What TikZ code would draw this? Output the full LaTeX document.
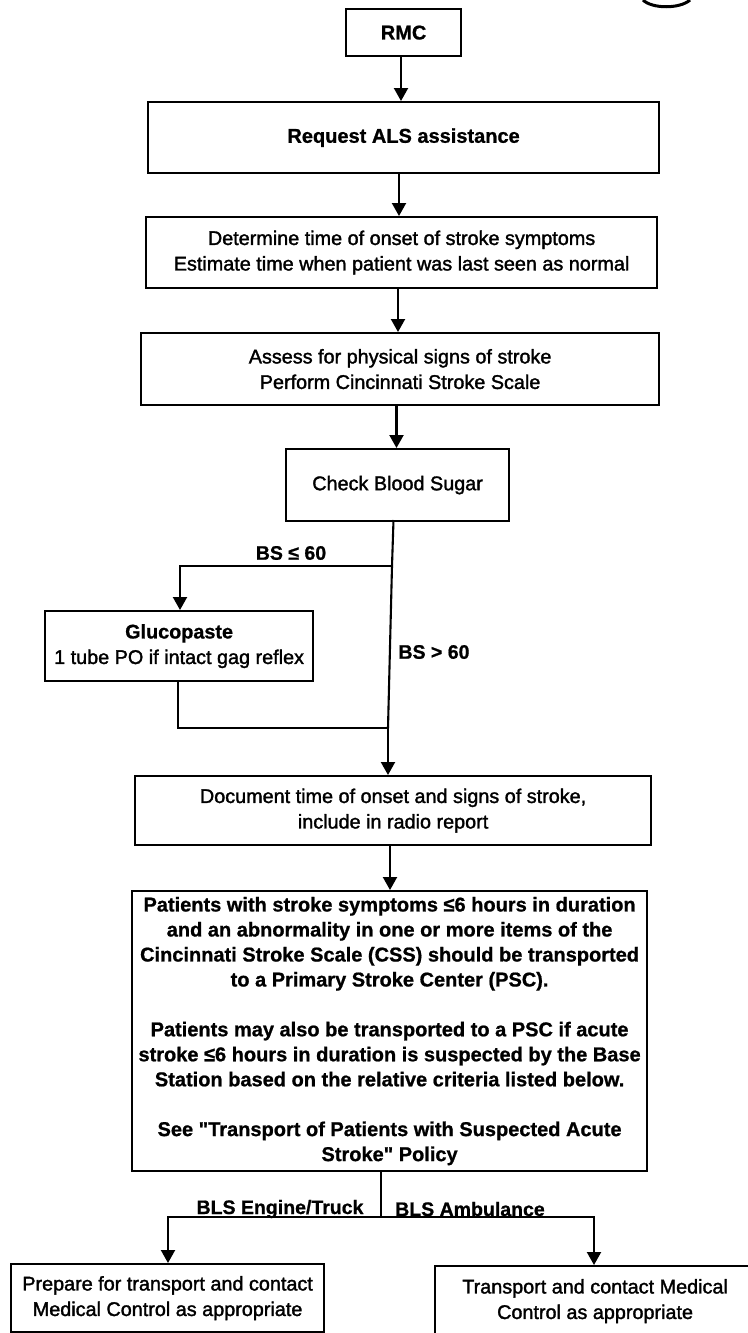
\documentclass[tikz,border=0pt]{standalone}
\usepackage{fontspec}
\newfontfamily\plainface{Liberation Sans}[FakeBold=1.6]
\newfontfamily\heavyface{Liberation Sans Bold}[FakeBold=0.9]
\usetikzlibrary{arrows.meta}
\tikzset{
  x=1pt,y=-1pt,
  flowbox/.style={draw=black,line width=2.2pt,fill=white,align=center,inner sep=0pt,anchor=north west,font=\fontsize{20}{25}\heavyface},
  plainbox/.style={flowbox,font=\fontsize{19.8}{25.5}\plainface},
  link/.style={line width=2.1pt,draw=black},
  arr/.style={link,-{Triangle[length=13pt,width=14pt]}},
  lab/.style={font=\fontsize{19.5}{22}\heavyface,inner sep=0pt}
}
\begin{document}
\begin{tikzpicture}
\useasboundingbox (0,0) rectangle (747,1333);
\coordinate (xa) at (401,0);
\coordinate (xb) at (399,0);
\coordinate (xc) at (398,0);
\coordinate (xd) at (396.5,0);
\coordinate (xe) at (390,0);
\coordinate (xl) at (180,0);
\coordinate (xm) at (178,0);
\coordinate (xp) at (168,0);
\coordinate (xt) at (594,0);
\node[flowbox,minimum width=115pt,minimum height=47pt] (rmc) at (345,8) {RMC};
\node[flowbox,minimum width=511pt,minimum height=71pt] (als) at (147,101) {Request ALS assistance};
\node[plainbox,minimum width=511pt,minimum height=71pt] (det) at (145,216) {Determine time of onset of stroke symptoms\\Estimate time when patient was last seen as normal};
\node[plainbox,minimum width=518pt,minimum height=72pt] (ass) at (140,332) {Assess for physical signs of stroke\\Perform Cincinnati Stroke Scale};
\node[plainbox,minimum width=223pt,minimum height=72pt] (chk) at (285,448) {Check Blood Sugar};
\node[plainbox,minimum width=268pt,minimum height=70pt] (glu) at (44,610) {{\heavyface Glucopaste}\\1 tube PO if intact gag reflex};
\node[plainbox,minimum width=516pt,minimum height=69pt] (doc) at (134,775) {Document time of onset and signs of stroke,\\include in radio report};
\node[flowbox,minimum width=515pt,minimum height=280pt] (pat) at (131,890) {Patients with stroke symptoms ≤6 hours in duration\\and an abnormality in one or more items of the\\Cincinnati Stroke Scale (CSS) should be transported\\to a Primary Stroke Center (PSC).\\[24.8pt]Patients may also be transported to a PSC if acute\\stroke ≤6 hours in duration is suspected by the Base\\Station based on the relative criteria listed below.\\[24.8pt]See "Transport of Patients with Suspected Acute\\Stroke" Policy};
\node[plainbox,minimum width=313pt,minimum height=68pt] (pre) at (10,1263) {Prepare for transport and contact\\Medical Control as appropriate};
\node[plainbox,minimum width=320pt,minimum height=70pt] (tra) at (434,1265) {Transport and contact Medical\\Control as appropriate};
\coordinate (j0) at (393.5,520);
\coordinate (j1) at (392,566);
\coordinate (j2) at (388,728);
\coordinate (j3) at (381,1217);
\draw[arr] (rmc.south -| xa) -- (als.north -| xa);
\draw[arr] (als.south -| xb) -- (det.north -| xb);
\draw[arr] (det.south -| xc) -- (ass.north -| xc);
\draw[arr] (ass.south -| xd) -- (chk.north -| xd);
\draw[link] (j0) -- (j1) -- (j2);
\draw[arr] (j1) -| (glu.north -| xl);
\draw[link] (glu.south -| xm) |- (j2);
\draw[arr] (j2) -- (doc.north -| j2);
\draw[arr] (doc.south -| xe) -- (pat.north -| xe);
\draw[link] (pat.south -| j3) -- (j3);
\draw[arr] (j3) -| (pre.north -| xp);
\draw[arr] (j3) -| (tra.north -| xt);
\node[lab] (l1) at (291,553) {BS ≤ 60};
\node[lab] (l2) at (434,652) {BS > 60};
\node[lab] (l3) at (280,1209) {BLS Engine/Truck};
\node[lab] (l4) at (470,1209) {BLS Ambulance};
\draw[line width=3pt] (643,0) .. controls (652,9) and (680,9) .. (690,0);
\end{tikzpicture}
\end{document}
